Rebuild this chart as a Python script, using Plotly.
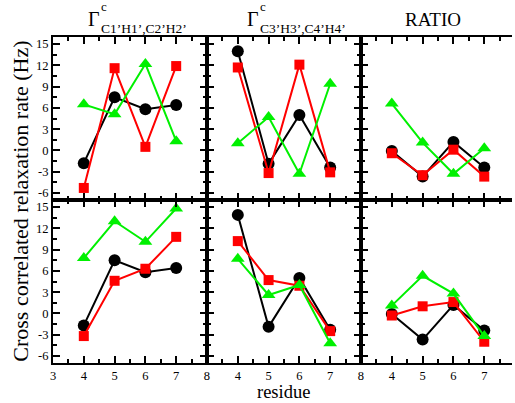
import plotly.graph_objects as go
from plotly.subplots import make_subplots

residue = [4, 5, 6, 7]

# Top row
top_c1_black = [-1.8, 7.5, 5.8, 6.4]
top_c1_red = [-5.3, 11.6, 0.5, 11.9]
top_c1_green = [6.5, 5.1, 12.2, 1.3]

top_c2_black = [14.0, -1.9, 5.0, -2.4]
top_c2_red = [11.7, -3.2, 12.1, -3.1]
top_c2_green = [1.0, 4.7, -3.3, 9.4]

top_c3_black = [-0.1, -3.7, 1.2, -2.4]
top_c3_red = [-0.4, -3.5, 0.1, -3.7]
top_c3_green = [6.6, 1.1, -3.3, 0.3]

# Bottom row
bot_c1_black = [-1.7, 7.5, 5.8, 6.4]
bot_c1_red = [-3.2, 4.6, 6.3, 10.8]
bot_c1_green = [7.8, 13.0, 10.1, 14.8]

bot_c2_black = [13.9, -1.9, 5.0, -2.3]
bot_c2_red = [10.2, 4.7, 3.9, -2.5]
bot_c2_green = [7.7, 2.6, 4.0, -4.2]

bot_c3_black = [-0.1, -3.7, 1.2, -2.4]
bot_c3_red = [-0.3, 1.0, 1.6, -4.0]
bot_c3_green = [1.1, 5.3, 2.8, -3.2]

panels = {
    (1, 1): (top_c1_black, top_c1_red, top_c1_green),
    (1, 2): (top_c2_black, top_c2_red, top_c2_green),
    (1, 3): (top_c3_black, top_c3_red, top_c3_green),
    (2, 1): (bot_c1_black, bot_c1_red, bot_c1_green),
    (2, 2): (bot_c2_black, bot_c2_red, bot_c2_green),
    (2, 3): (bot_c3_black, bot_c3_red, bot_c3_green),
}

y_ticks = [-6, -3, 0, 3, 6, 9, 12, 15]
x_ticks_first = [3, 4, 5, 6, 7, 8]
x_ticks_other = [4, 5, 6, 7, 8]

W, H = 515, 403
ML, MR, MT, MB = 53, 0, 37, 40
PW = W - ML - MR
PH = H - MT - MB

fig = make_subplots(rows=2, cols=3, horizontal_spacing=0, vertical_spacing=0)

styles = [
    ("black", "circle", 12),
    ("#ff0000", "square", 10),
    ("#00f000", "triangle-up", 12),
]

for (r, c), series in panels.items():
    for vals, (col, sym, sz) in zip(series, styles):
        fig.add_trace(go.Scatter(
            x=residue, y=vals, mode="lines+markers",
            line=dict(color=col, width=2),
            marker=dict(color=col, symbol=sym, size=sz, line=dict(width=0)),
            showlegend=False,
        ), row=r, col=c)

font_family = "Liberation Serif"

# domains
col_dom = [(0, 155 / PW), (155 / PW, 310 / PW), (310 / PW, 1)]
row_dom = {1: (163 / PH, 1), 2: (0, 163 / PH)}

for r in (1, 2):
    for c in (1, 2, 3):
        xr = [3, 8] if c < 3 else [3, 7.9]
        if r == 2:
            tv = x_ticks_first if c == 1 else x_ticks_other
            show_xl = True
        else:
            tv = x_ticks_first
            show_xl = False
        fig.update_xaxes(
            domain=col_dom[c - 1], range=xr,
            tickmode="array", tickvals=tv, ticktext=[str(v) for v in tv],
            showticklabels=show_xl,
            ticks="inside", ticklen=7, tickwidth=1.5, tickcolor="black",
            minor=dict(dtick=0.5, tick0=3, ticks="inside", ticklen=4, tickwidth=1.5, tickcolor="black", showgrid=False),
            showline=True, linecolor="black", linewidth=2, mirror="ticks",
            showgrid=False, zeroline=False,
            tickfont=dict(family=font_family, size=12.5, color="black"),
            row=r, col=c,
        )
        fig.update_yaxes(
            domain=row_dom[r], range=[-7, 16],
            tickmode="array", tickvals=y_ticks, ticktext=[str(v) for v in y_ticks],
            showticklabels=(c == 1),
            ticks="inside", ticklen=7, tickwidth=1.5, tickcolor="black",
            minor=dict(dtick=1.5, tick0=0, ticks="inside", ticklen=4, tickwidth=1.5, tickcolor="black", showgrid=False),
            showline=True, linecolor="black", linewidth=2,
            mirror=("ticks" if c < 3 else False),
            showgrid=False, zeroline=False,
            tickfont=dict(family=font_family, size=12.5, color="black"),
            row=r, col=c,
        )


def px(x):
    return (x - ML) / PW


def py(y):
    return 1 - (y - MT) / PH


def ann(text, x, y, size, xanchor="center", yanchor="middle", angle=0):
    fig.add_annotation(
        text=text, x=px(x), y=py(y), xref="paper", yref="paper",
        xanchor=xanchor, yanchor=yanchor, showarrow=False, textangle=angle,
        borderpad=0,
        font=dict(family=font_family, size=size, color="black"),
    )


# column titles
ann("Γ", 94.5, 18.5, 20)
ann("c", 100.5, 6.5, 13, xanchor="left")
ann("C1’H1’,C2’H2’", 100.5, 28.5, 13.5, xanchor="left")
ann("Γ", 254, 18.5, 20)
ann("c", 260, 6.5, 13, xanchor="left")
ann("C3’H3’,C4’H4’", 260, 28.5, 13.5, xanchor="left")
ann("RATIO", 435.5, 19, 19)

# axis titles
ann("Cross correlated relaxation rate (Hz)", 20, 201.5, 22, angle=-90)
ann("residue", 285, 402.5, 18.5, yanchor="bottom")

fig.update_layout(
    width=W, height=H,
    margin=dict(l=ML, r=MR, t=MT, b=MB, pad=0),
    plot_bgcolor="white", paper_bgcolor="white",
    showlegend=False,
    font=dict(family=font_family),
)

fig.write_html("out.html")
